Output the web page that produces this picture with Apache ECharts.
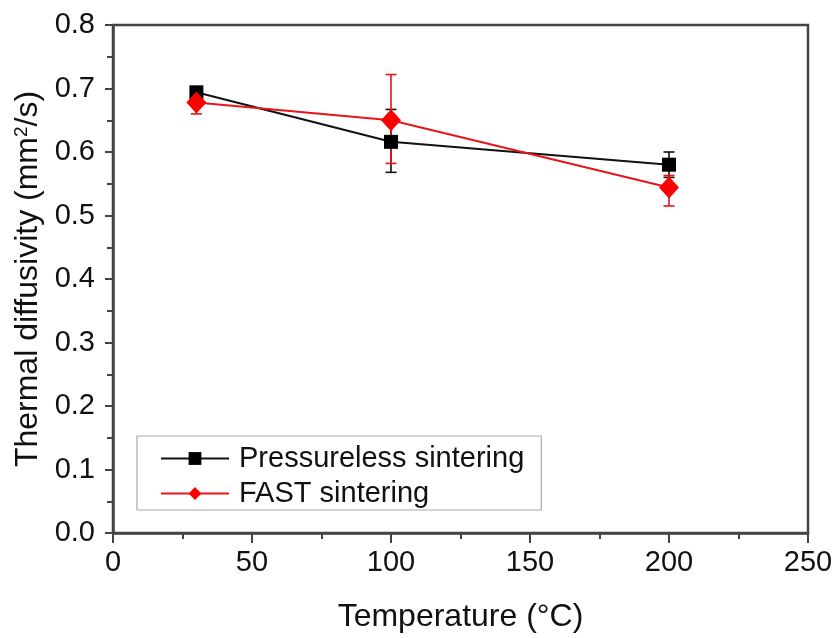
<!DOCTYPE html>
<html><head><meta charset="utf-8">
<script src="https://cdn.jsdelivr.net/npm/echarts@6/dist/echarts.min.js"></script>
<style>html,body{margin:0;padding:0;background:#fff}#c{width:837px;height:638px}</style>
</head><body><div id="c"></div>
<script>
const temps = [30, 100, 200];
const pressurelessVals = [0.694, 0.616, 0.580];
const pressurelessLow = [0.688, 0.568, 0.560];
const pressurelessHigh = [0.700, 0.667, 0.600];
const fastVals = [0.678, 0.650, 0.544];
const fastLow = [0.660, 0.582, 0.515];
const fastHigh = [0.694, 0.722, 0.563];
const xTicks = [0, 50, 100, 150, 200, 250];
const yTicks = [0.0, 0.1, 0.2, 0.3, 0.4, 0.5, 0.6, 0.7, 0.8];

const FONT = 'Liberation Sans, Arial, sans-serif';
function errSeries(name, low, high, color, z) {
  return {
    type: 'custom', name: name + '_err', z: z, silent: true,
    data: temps.map((t, i) => [t, low[i], high[i]]),
    renderItem: function (params, api) {
      const x = api.value(0);
      const lo = api.coord([x, api.value(1)]);
      const hi = api.coord([x, api.value(2)]);
      const w = 5.5;
      const st = { stroke: color, lineWidth: 1.6 };
      return { type: 'group', children: [
        { type: 'line', shape: { x1: lo[0], y1: lo[1], x2: hi[0], y2: hi[1] }, style: st },
        { type: 'line', shape: { x1: lo[0] - w, y1: lo[1], x2: lo[0] + w, y2: lo[1] }, style: st },
        { type: 'line', shape: { x1: hi[0] - w, y1: hi[1], x2: hi[0] + w, y2: hi[1] }, style: st }
      ]};
    }
  };
}
const chart = echarts.init(document.getElementById('c'));
chart.setOption({
  animation: false,
  backgroundColor: '#fff',
  grid: { left: 113, right: 29, top: 25, bottom: 101, show: true, borderColor: '#444', borderWidth: 2.5, backgroundColor: 'transparent' },
  legend: {
    orient: 'vertical', left: 137, top: 436, padding: [8, 17, 2, 23],
    borderColor: '#aaa', borderWidth: 1.2, itemGap: 6,
    itemWidth: 68, itemHeight: 16,
    textStyle: { fontFamily: FONT, fontSize: 29, color: '#111', padding: [0, 0, 0, 5] },
    data: ['Pressureless sintering', 'FAST sintering']
  },
  xAxis: {
    type: 'value', min: xTicks[0], max: xTicks[xTicks.length - 1], interval: 50,
    name: 'Temperature (°C)', nameLocation: 'middle', nameGap: 68,
    nameTextStyle: { fontFamily: FONT, fontSize: 32, color: '#111' },
    axisLine: { lineStyle: { color: '#444', width: 2.5 } },
    axisTick: { show: true, length: 10, lineStyle: { color: '#444', width: 2 } },
    minorTick: { show: true, splitNumber: 2, length: 6, lineStyle: { color: '#444', width: 2 } },
    axisLabel: { fontFamily: FONT, fontSize: 29, color: '#111', margin: 15 },
    splitLine: { show: false }
  },
  yAxis: {
    type: 'value', min: yTicks[0], max: yTicks[yTicks.length - 1], interval: 0.1,
    name: 'Thermal diffusivity (mm{sup|2}/s)', nameLocation: 'middle', nameGap: 67,
    nameTextStyle: { fontFamily: FONT, fontSize: 32, color: '#111',
      rich: { sup: { fontFamily: FONT, fontSize: 19, color: '#111', verticalAlign: 'top', lineHeight: 32 } } },
    axisLine: { lineStyle: { color: '#444', width: 2.5 } },
    axisTick: { show: true, length: 8, lineStyle: { color: '#444', width: 2 } },
    minorTick: { show: true, splitNumber: 2, length: 6, lineStyle: { color: '#444', width: 2 } },
    axisLabel: { fontFamily: FONT, fontSize: 29, color: '#111', margin: 18, formatter: v => v.toFixed(1) },
    splitLine: { show: false }
  },
  series: [
    errSeries('Pressureless sintering', pressurelessLow, pressurelessHigh, '#111', 2),
    errSeries('FAST sintering', fastLow, fastHigh, '#e8141c', 3),
    {
      name: 'Pressureless sintering', type: 'line', z: 4,
      data: temps.map((t, i) => [t, pressurelessVals[i]]),
      symbol: 'rect', symbolSize: 14,
      lineStyle: { color: '#111', width: 2 },
      itemStyle: { color: '#000' }
    },
    {
      name: 'FAST sintering', type: 'line', z: 5,
      data: temps.map((t, i) => [t, fastVals[i]]),
      symbol: 'diamond', symbolSize: [20, 22],
      lineStyle: { color: '#e8141c', width: 2 },
      itemStyle: { color: '#ff0000' }
    }
  ]
});
</script></body></html>
